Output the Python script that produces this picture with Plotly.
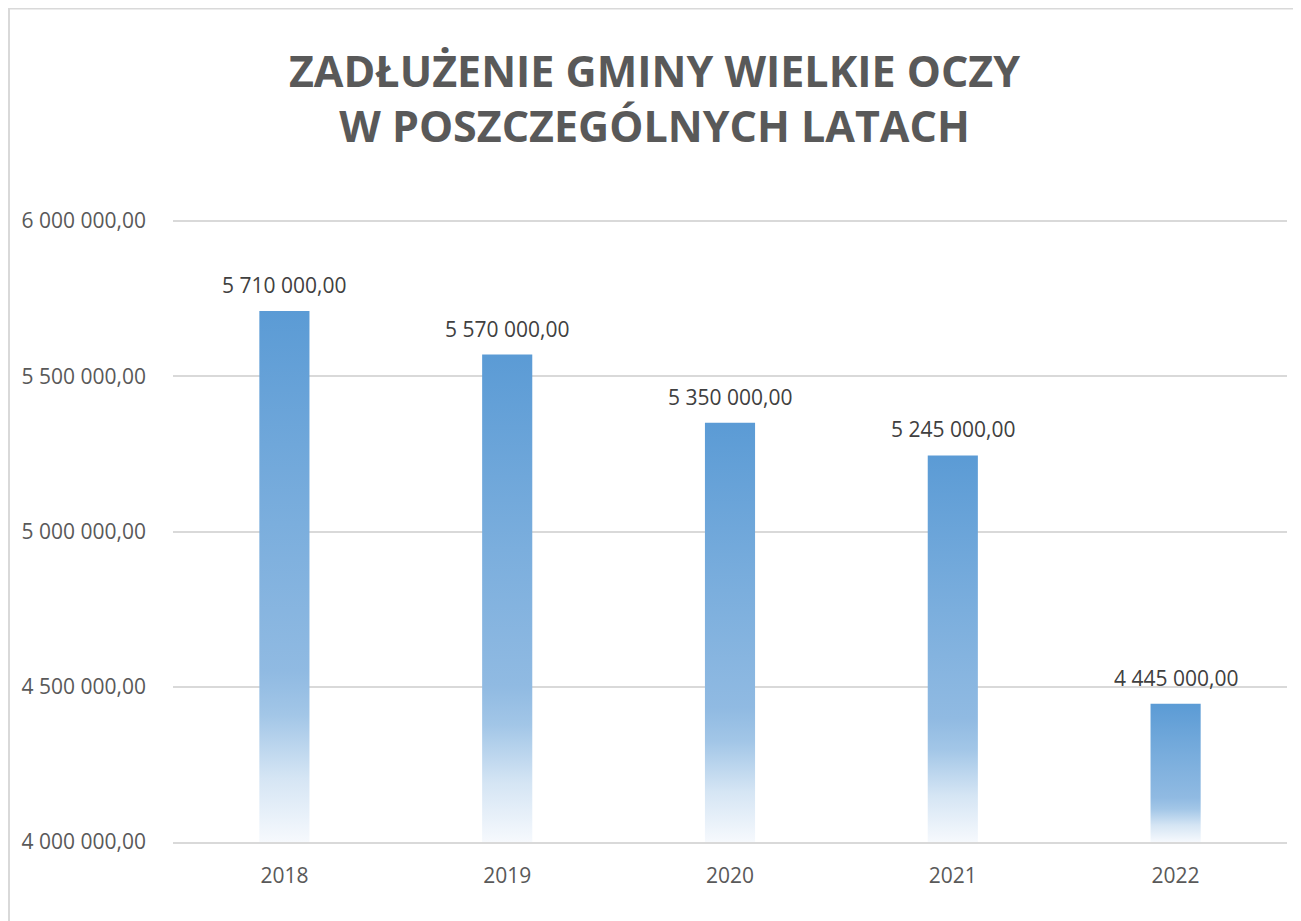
import plotly.graph_objects as go

# data
years = ["2018", "2019", "2020", "2021", "2022"]
debt = [5710000, 5570000, 5350000, 5245000, 4445000]
axis_base = 4000000
axis_top = 6000000

title_text = "ZADŁUŻENIE GMINY WIELKIE OCZY<br>W POSZCZEGÓLNYCH LATACH"

bar_w = 0.225
gradient = [
    [0.0, "#F6F9FD"],
    [0.12, "#D5E5F4"],
    [0.24, "#A2C6E7"],
    [0.32, "#90BAE2"],
    [0.6, "#7BAEDD"],
    [1.0, "#5B9BD5"],
]


def pl_fmt(v):
    return f"{v:,.2f}".replace(",", " ").replace(".", ",")


fig = go.Figure()

for i, (yr, v) in enumerate(zip(years, debt)):
    fig.add_trace(go.Scatter(
        x=[i - bar_w / 2, i + bar_w / 2, i + bar_w / 2, i - bar_w / 2, i - bar_w / 2],
        y=[axis_base, axis_base, v, v, axis_base],
        mode="lines",
        fill="toself",
        line=dict(width=0),
        fillgradient=dict(type="vertical", colorscale=gradient),
        hoverinfo="skip",
        showlegend=False,
    ))
    fig.add_annotation(
        x=i, y=v, text=pl_fmt(v), showarrow=False,
        yanchor="bottom", yshift=10,
        font=dict(family="Open Sans", size=21, color="#404040"),
    )

# chart border like the excel chart area
fig.add_shape(
    type="rect", xref="paper", yref="paper",
    x0=-0.1472, x1=1.009, y0=-0.3, y1=1.338,
    line=dict(color="#D9D9D9", width=2), layer="below",
)

fig.update_layout(
    width=1293,
    height=913,
    template="plotly_white",
    paper_bgcolor="white",
    plot_bgcolor="white",
    separators=", ",
    margin=dict(l=165, r=14, t=211, b=79),
    title=dict(
        text=title_text,
        x=0.5, xref="container", xanchor="center",
        y=0.914, yref="container", yanchor="middle",
        font=dict(family="Open Sans", size=43, color="#595959", weight="bold"),
    ),
    xaxis=dict(
        range=[-0.5, len(years) - 0.5],
        tickvals=list(range(len(years))),
        ticktext=years,
        showgrid=False,
        zeroline=False,
        showline=True,
        linecolor="#D9D9D9",
        linewidth=2,
        ticks="",
        ticklabelstandoff=14,
        tickfont=dict(family="Open Sans", size=21, color="#595959"),
        fixedrange=True,
    ),
    yaxis=dict(
        # a little headroom so the top gridline is not clipped at the edge
        range=[axis_base, axis_top + 6500],
        tickvals=list(range(axis_base, axis_top + 1, 500000)),
        tickformat=",.2f",
        showgrid=True,
        gridcolor="#D9D9D9",
        gridwidth=1.5,
        zeroline=False,
        ticks="",
        ticklabelstandoff=26,
        tickfont=dict(family="Open Sans", size=21, color="#595959"),
        fixedrange=True,
    ),
)

fig.write_html("out.html")
